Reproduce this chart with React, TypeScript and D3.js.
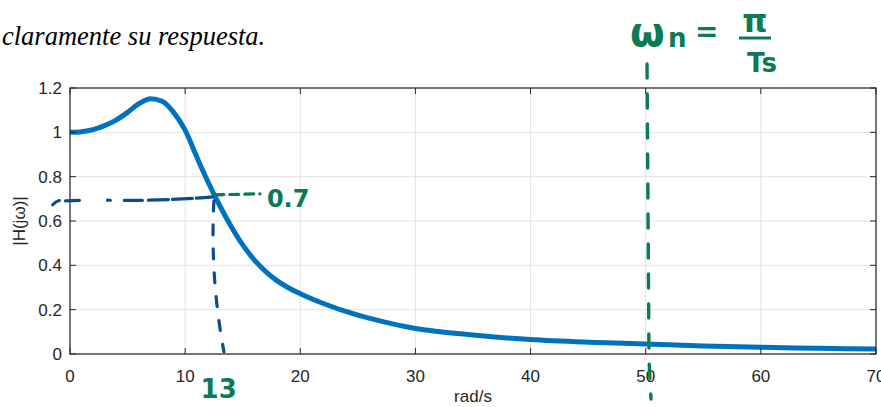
import React, { useEffect, useRef } from "react";
import * as d3 from "d3";

// values
const omega = [0, 1, 2, 3, 4, 5, 6, 7, 8, 9, 10, 11, 12, 13, 14, 15, 16, 17, 18, 19, 20, 22, 25, 27, 30, 35, 40, 45, 50, 55, 60, 65, 70];
const magnitude = [1.0, 1.003, 1.012, 1.03, 1.055, 1.09, 1.13, 1.152, 1.14, 1.09, 1.01, 0.89, 0.775, 0.67, 0.575, 0.492, 0.425, 0.372, 0.33, 0.298, 0.272, 0.228, 0.175, 0.148, 0.115, 0.086, 0.065, 0.053, 0.045, 0.036, 0.03, 0.026, 0.022];
const xTicks = [0, 10, 20, 30, 40, 50, 60, 70];
const yTicks = [0, 0.2, 0.4, 0.6, 0.8, 1, 1.2];

// hand-drawn marks (in data units)
const cutLevel = 0.7;
const cutFreq = 13;
const nyquistFreq = 50.2;

const App = () => {
  const svgRef = useRef<SVGSVGElement>(null);

  useEffect(() => {
    const svg = d3.select(svgRef.current);
    svg.selectAll("*").remove();

    const width = 881,
      height = 407;
    const left = 70,
      right = 876,
      top = 88,
      bottom = 354;

    const x = d3.scaleLinear().domain([0, 70]).range([left, right]);
    const y = d3.scaleLinear().domain([0, 1.2]).range([bottom, top]);

    svg.attr("width", width).attr("height", height);

    // heading text of the document
    svg
      .append("text")
      .attr("x", 2)
      .attr("y", 45)
      .style("font-family", "'Liberation Serif', serif")
      .style("font-style", "italic")
      .style("font-size", "26.5px")
      .style("fill", "#000")
      .text("claramente su respuesta.");

    const font = "'Liberation Sans', Arial, sans-serif";
    const fs = "17px";

    // grid
    svg
      .append("g")
      .selectAll("line")
      .data(xTicks)
      .join("line")
      .attr("x1", (d) => x(d))
      .attr("x2", (d) => x(d))
      .attr("y1", top)
      .attr("y2", bottom)
      .attr("stroke", "#e3e3e3")
      .attr("stroke-width", 1);
    svg
      .append("g")
      .selectAll("line")
      .data(yTicks)
      .join("line")
      .attr("x1", left)
      .attr("x2", right)
      .attr("y1", (d) => y(d))
      .attr("y2", (d) => y(d))
      .attr("stroke", "#e3e3e3")
      .attr("stroke-width", 1);

    // curve
    const line = d3
      .line<number>()
      .x((d, i) => x(omega[i]))
      .y((d) => y(d))
      .curve(d3.curveMonotoneX);
    svg
      .append("path")
      .datum(magnitude)
      .attr("d", line)
      .attr("fill", "none")
      .attr("stroke", "#0072BD")
      .attr("stroke-width", 5)
      .attr("stroke-linejoin", "round");

    // axes box
    svg
      .append("rect")
      .attr("x", left)
      .attr("y", top)
      .attr("width", right - left)
      .attr("height", bottom - top)
      .attr("fill", "none")
      .attr("stroke", "#262626")
      .attr("stroke-width", 1.2);

    // ticks (inward)
    const tl = 6;
    svg
      .append("g")
      .selectAll("path")
      .data(xTicks)
      .join("path")
      .attr("d", (d) => `M${x(d)},${bottom}v${-tl}M${x(d)},${top}v${tl}`)
      .attr("stroke", "#262626");
    svg
      .append("g")
      .selectAll("path")
      .data(yTicks)
      .join("path")
      .attr("d", (d) => `M${left},${y(d)}h${tl}M${right},${y(d)}h${-tl}`)
      .attr("stroke", "#262626");

    svg
      .append("g")
      .selectAll("text")
      .data(xTicks)
      .join("text")
      .attr("x", (d) => x(d))
      .attr("y", bottom + 28)
      .attr("text-anchor", "middle")
      .style("font-family", font)
      .style("font-size", fs)
      .style("fill", "#262626")
      .text((d) => String(d));
    svg
      .append("g")
      .selectAll("text")
      .data(yTicks)
      .join("text")
      .attr("x", left - 8)
      .attr("y", (d) => y(d) + 6)
      .attr("text-anchor", "end")
      .style("font-family", font)
      .style("font-size", fs)
      .style("fill", "#262626")
      .text((d) => String(d));

    svg
      .append("text")
      .attr("x", (left + right) / 2)
      .attr("y", 402)
      .attr("text-anchor", "middle")
      .style("font-family", font)
      .style("font-size", fs)
      .style("fill", "#262626")
      .text("rad/s");

    svg
      .append("text")
      .attr("transform", `translate(25,${(top + bottom) / 2}) rotate(-90)`)
      .attr("text-anchor", "middle")
      .style("font-family", font)
      .style("font-size", fs)
      .style("fill", "#262626")
      .text("|H(jω)|");

    // handwritten annotations
    const blue = "#0d4a90";
    const green = "#0b7a55";
    const pen = (sel: any, c: string, w = 3.2) =>
      sel.attr("fill", "none").attr("stroke", c).attr("stroke-width", w).attr("stroke-linecap", "round");

    // blue horizontal dash-dot at 0.7
    const hx0 = x(-1.5),
      hx1 = x(cutFreq - 0.6),
      hy = y(cutLevel);
    svg
      .append("path")
      .attr("d", `M${hx0},${hy + 6} Q${hx0 + 5},${hy} ${hx0 + 12},${hy + 2} L${x(2)},${hy + 1} Q${(x(2) + hx1) / 2},${hy + 3} ${hx1},${hy - 2}`)
      .call(pen, blue)
      .attr("stroke-dasharray", "8 6 14 28 3 14 18 6 20 4 20 4 18");

    // green dashes to label
    svg
      .append("path")
      .attr("d", `M${hx1 + 2},${hy - 4} L${x(16.5)},${hy - 5}`)
      .call(pen, green)
      .attr("stroke-dasharray", "9 6");
    svg
      .append("text")
      .attr("x", x(17.1))
      .attr("y", hy + 8)
      .style("font-family", "'DejaVu Sans', sans-serif")
      .style("font-weight", "bold")
      .style("font-size", "24px")
      .style("fill", green)
      .text("0.7");

    // blue vertical dashes at 13
    const vx = x(cutFreq - 0.5);
    svg
      .append("path")
      .attr("d", `M${vx},${hy + 2} Q${vx - 4},${y(0.35)} ${vx + 10},${y(0.01)}`)
      .call(pen, blue)
      .attr("stroke-dasharray", "10 14");
    svg
      .append("text")
      .attr("x", x(cutFreq) - 1)
      .attr("y", 398)
      .attr("text-anchor", "middle")
      .style("font-family", "'DejaVu Sans', sans-serif")
      .style("font-weight", "bold")
      .style("font-size", "26px")
      .style("fill", green)
      .text("13");

    // green vertical at ωn
    const nx = x(nyquistFreq);
    svg
      .append("path")
      .attr("d", `M${nx - 1},64 L${nx + 1},360 Q${nx + 2},380 ${nx + 3},399`)
      .call(pen, green, 3.4)
      .attr("stroke-dasharray", "14 16");

    const hw = svg.append("g").style("fill", green).style("font-family", "'DejaVu Sans', sans-serif").style("font-weight", "bold");
    hw.append("text").attr("x", 630).attr("y", 46).style("font-size", "40px").text("ω");
    hw.append("text").attr("x", 668).attr("y", 47).style("font-size", "26px").text("n");
    hw.append("text").attr("x", 695).attr("y", 41).style("font-size", "28px").text("=");
    hw.append("text").attr("x", 755).attr("y", 32).attr("text-anchor", "middle").style("font-size", "32px").text("π");
    hw.append("line").attr("x1", 739).attr("x2", 771).attr("y1", 38).attr("y2", 38).attr("stroke", green).attr("stroke-width", 3);
    hw.append("text").attr("x", 762).attr("y", 72).attr("text-anchor", "middle").style("font-size", "26px").text("Ts");
  }, []);

  return (
    <div style={{ position: "absolute", left: 0, top: 0, width: 881, height: 407, overflow: "hidden", background: "#fff" }}>
      <svg ref={svgRef} />
    </div>
  );
};

export default App;
